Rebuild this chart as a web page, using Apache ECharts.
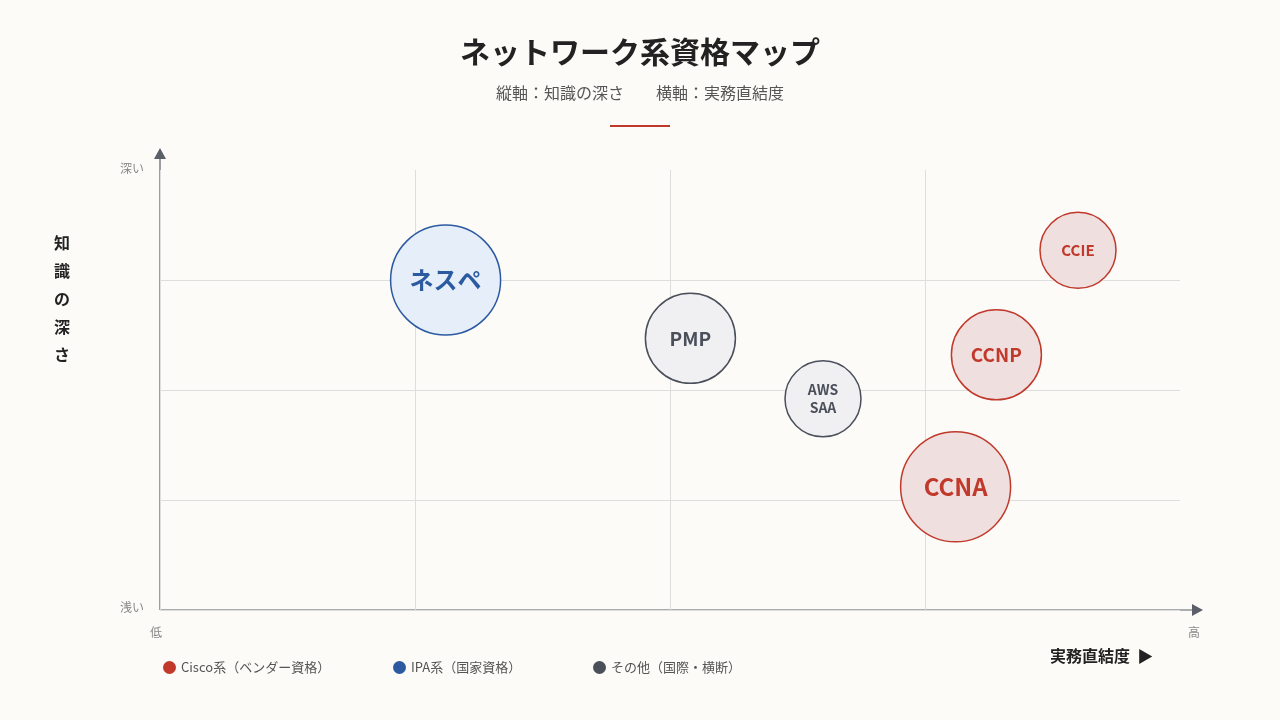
<!DOCTYPE html>
<html><head><meta charset="utf-8">
<script src="https://cdn.jsdelivr.net/npm/echarts@6/dist/echarts.min.js"></script>
<style>html,body{margin:0;background:#fcfbf8}#c{width:1280px;height:720px}</style>
</head><body><div id="c"></div>
<script>
var groupNames = ['Cisco系（ベンダー資格）', 'IPA系（国家資格）', 'その他（国際・横断）'];
// [実務直結度, 知識の深さ, 直径, 名前]
var ciscoData = [[3.6, 3.27, 76, 'CCIE'], [3.28, 2.32, 90, 'CCNP'], [3.12, 1.12, 110, 'CCNA']];
var ipaData = [[1.12, 3.0, 110, 'ネスペ']];
var otherData = [[2.08, 2.47, 90, 'PMP'], [2.6, 1.92, 76, 'AWS\nSAA']];
var fontSizes = {76: 15, 90: 19, 110: 24};
var F = '"Noto Sans CJK JP","Noto Sans",sans-serif';

function mkSeries(name, data, stroke, fill){
    return {
        name: name, type: 'scatter',
        data: data.map(function(d){
            var fs = d[3].indexOf('AWS') === 0 ? 14 : fontSizes[d[2]];
            return {value: d, label: {fontSize: fs, lineHeight: fs + 4}};
        }),
        symbolSize: function(v){ return v[2]; },
        itemStyle: {color: fill, borderColor: stroke, borderWidth: 1.5, opacity: 1},
        emphasis: {disabled: true},
        label: {
            show: true, position: 'inside', color: stroke, fontWeight: 'bold', fontFamily: F,
            formatter: function(p){ return p.value[3]; }
        }
    };
}
var series = [
    mkSeries(groupNames[0], ciscoData, '#c0392b', '#f0dfdf'),
    mkSeries(groupNames[1], ipaData, '#2c5aa0', '#e6eef9'),
    mkSeries(groupNames[2], otherData, '#4a4f5a', '#f0f0f3')
];

function legendAt(left, name, color){
    return {left: left, top: 656, data: [{name: name, icon: 'circle', itemStyle: {color: color, borderWidth: 0}}],
        itemWidth: 13, itemHeight: 13,
        textStyle: {color: '#555', fontSize: 13, fontFamily: F}, selectedMode: false};
}

var chart = echarts.init(document.getElementById('c'));
chart.setOption({
    backgroundColor: '#fcfbf8',
    title: {text: 'ネットワーク系資格マップ', subtext: '縦軸：知識の深さ　　横軸：実務直結度',
        left: 'center', top: 32, itemGap: 18,
        textStyle: {fontSize: 30, fontWeight: 'bold', color: '#222', fontFamily: F},
        subtextStyle: {fontSize: 16, color: '#555', fontFamily: F}},
    legend: [legendAt(158, groupNames[0], '#c0392b'), legendAt(388, groupNames[1], '#2c5aa0'),
        legendAt(588, groupNames[2], '#4a4f5a')],
    grid: {left: 160, right: 100, top: 170, bottom: 110},
    xAxis: {type: 'value', min: 0, max: 4, interval: 1, axisLine: {show: false}, axisTick: {show: false},
        axisLabel: {show: false}, splitLine: {showMaxLine: false, lineStyle: {color: '#ddd'}}},
    yAxis: {type: 'value', min: 0, max: 4, interval: 1, axisLine: {show: false}, axisTick: {show: false},
        axisLabel: {show: false}, splitLine: {showMaxLine: false, lineStyle: {color: '#ddd'}}},
    series: series,
    graphic: [
        {type: 'rect', shape: {x: 610, y: 125, width: 60, height: 2}, style: {fill: '#c0392b'}},
        {type: 'line', shape: {x1: 160, y1: 610, x2: 1195, y2: 610}, style: {stroke: '#5a5f6a', lineWidth: 1.2}},
        {type: 'polygon', shape: {points: [[1192, 604], [1203, 610], [1192, 616]]}, style: {fill: '#5a5f6a'}},
        {type: 'line', shape: {x1: 160, y1: 610, x2: 160, y2: 156}, style: {stroke: '#5a5f6a', lineWidth: 1.2}},
        {type: 'polygon', shape: {points: [[154, 159], [160, 148], [166, 159]]}, style: {fill: '#5a5f6a'}},
        {type: 'text', left: 120, top: 162, style: {text: '深い', fontSize: 12, fill: '#888', fontFamily: F}},
        {type: 'text', left: 120, top: 601, style: {text: '浅い', fontSize: 12, fill: '#888', fontFamily: F}},
        {type: 'text', left: 150, top: 626, style: {text: '低', fontSize: 12, fill: '#888', fontFamily: F}},
        {type: 'text', left: 1188, top: 626, style: {text: '高', fontSize: 12, fill: '#888', fontFamily: F}},
        {type: 'text', left: 54, top: 229, style: {text: '知\n識\nの\n深\nさ', fontSize: 16, lineHeight: 28,
            fontWeight: 'bold', fill: '#222', fontFamily: F}},
        {type: 'text', left: 1050, top: 648, style: {text: '実務直結度  ▶', fontSize: 16,
            fontWeight: 'bold', fill: '#222', fontFamily: F}}
    ]
});
</script></body></html>
